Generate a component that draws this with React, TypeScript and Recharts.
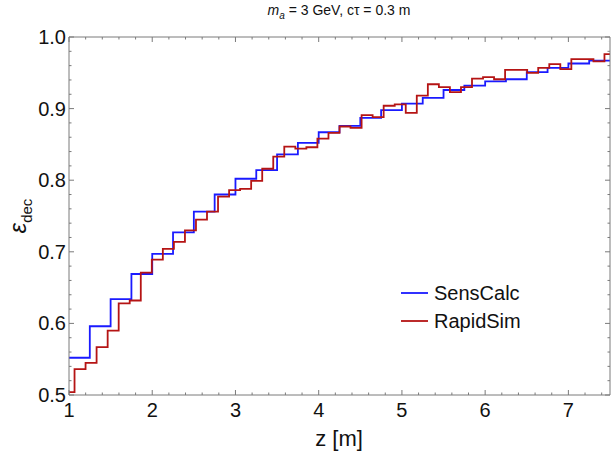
import { LineChart, Line, XAxis, YAxis } from 'recharts';

// SensCalc: bin edges (m) and efficiency per 0.25 m bin
const sensCalcZ = [
  1, 1.25, 1.5, 1.75, 2, 2.25, 2.5, 2.75, 3, 3.25, 3.5, 3.75, 4, 4.25, 4.5, 4.75,
  5, 5.25, 5.5, 5.75, 6, 6.25, 6.5, 6.75, 7, 7.25, 7.5,
];
const sensCalcEff = [
  0.552, 0.596, 0.634, 0.669, 0.697, 0.727, 0.756, 0.78, 0.802, 0.814, 0.836, 0.852,
  0.867, 0.876, 0.887, 0.898, 0.907, 0.915, 0.926, 0.932, 0.938, 0.941, 0.951, 0.957,
  0.963, 0.967,
];

// RapidSim: sample points (m) and efficiency
const rapidSimZ = [
  1.0, 1.133, 1.265, 1.398, 1.531, 1.663, 1.796, 1.929, 2.061, 2.194, 2.327, 2.459,
  2.592, 2.724, 2.857, 2.99, 3.122, 3.255, 3.388, 3.52, 3.653, 3.786, 3.918, 4.051,
  4.184, 4.316, 4.449, 4.582, 4.714, 4.847, 4.98, 5.112, 5.245, 5.378, 5.51, 5.643,
  5.776, 5.908, 6.041, 6.173, 6.306, 6.439, 6.571, 6.704, 6.837, 6.969, 7.102, 7.235,
  7.367, 7.5,
];
const rapidSimEff = [
  0.504, 0.536, 0.545, 0.567, 0.59, 0.628, 0.632, 0.671, 0.689, 0.704,
  0.714, 0.73, 0.745, 0.756, 0.777, 0.786, 0.788, 0.799, 0.816, 0.833,
  0.847, 0.844, 0.846, 0.858, 0.866, 0.875, 0.873, 0.891, 0.888, 0.904,
  0.906, 0.894, 0.918, 0.934, 0.93, 0.923, 0.93, 0.942, 0.944, 0.941,
  0.954, 0.954, 0.95, 0.957, 0.962, 0.955, 0.969, 0.969, 0.966, 0.976,
];

const xMajor = [1, 2, 3, 4, 5, 6, 7];
const yMajor = [0.5, 0.6, 0.7, 0.8, 0.9, 1.0];

const round = (v: number) => Math.round(v * 1000) / 1000;
const xTicks: number[] = [];
for (let v = 1; v <= 7.5 + 1e-9; v += 0.2) xTicks.push(round(v));
const yTicks: number[] = [];
for (let v = 0.5; v <= 1 + 1e-9; v += 0.02) yTicks.push(round(v));

const sensData = sensCalcZ.map((z, i) => ({
  z,
  eff: sensCalcEff[Math.min(i, sensCalcEff.length - 1)],
}));
const rapidData = rapidSimZ.map((z, i) => ({ z, eff: rapidSimEff[i] }));

const AXIS = '#7a7a7a';
const BLUE = '#1a1aff';
const RED = '#b51414';
const FONT = '"Liberation Sans", Arial, sans-serif';

const isMajorX = (v: number) => xMajor.some((m) => Math.abs(m - v) < 1e-6);
const isMajorY = (v: number) => yMajor.some((m) => Math.abs(m - v) < 1e-6);

const BottomTick = ({ x, y, payload }: any) => {
  const major = isMajorX(payload.value);
  return (
    <g>
      <line x1={x} y1={y} x2={x} y2={y - (major ? 5 : 2.5)} stroke={AXIS} />
      {major && (
        <text x={x} y={y + 22} textAnchor="middle" fontSize={20} fill="#111" fontFamily={FONT}>
          {payload.value}
        </text>
      )}
    </g>
  );
};

const TopTick = ({ x, y, payload }: any) => {
  const major = isMajorX(payload.value);
  return <line x1={x} y1={y} x2={x} y2={y + (major ? 5 : 2.5)} stroke={AXIS} />;
};

const LeftTick = ({ x, y, payload }: any) => {
  const major = isMajorY(payload.value);
  return (
    <g>
      <line x1={x} y1={y} x2={x + (major ? 5 : 2.5)} y2={y} stroke={AXIS} />
      {major && (
        <text x={x - 3} y={y + 7} textAnchor="end" fontSize={20} fill="#111" fontFamily={FONT}>
          {payload.value.toFixed(1)}
        </text>
      )}
    </g>
  );
};

const RightTick = ({ x, y, payload }: any) => {
  const major = isMajorY(payload.value);
  return <line x1={x} y1={y} x2={x - (major ? 5 : 2.5)} y2={y} stroke={AXIS} />;
};

const legendItems = [
  { name: 'SensCalc', color: BLUE },
  { name: 'RapidSim', color: RED },
];

export default function App() {
  return (
    <div
      style={{
        position: 'absolute',
        left: 0,
        top: 0,
        width: 611,
        height: 466,
        background: '#fff',
        fontFamily: FONT,
        color: '#111',
      }}
    >
      <LineChart width={611} height={466} margin={{ top: 0, right: 0, bottom: 0, left: 0 }}>
        <XAxis
          xAxisId="bottom"
          type="number"
          dataKey="z"
          domain={[1, 7.5]}
          allowDataOverflow
          ticks={xTicks}
          interval={0}
          height={71}
          tickSize={0}
          tickMargin={0}
          tickLine={false}
          axisLine={{ stroke: AXIS }}
          tick={BottomTick}
        />
        <XAxis
          xAxisId="top"
          orientation="top"
          type="number"
          dataKey="z"
          domain={[1, 7.5]}
          allowDataOverflow
          ticks={xTicks}
          interval={0}
          height={37}
          tickSize={0}
          tickMargin={0}
          tickLine={false}
          axisLine={{ stroke: AXIS }}
          tick={TopTick}
        />
        <YAxis
          yAxisId="left"
          type="number"
          domain={[0.5, 1]}
          allowDataOverflow
          ticks={yTicks}
          interval={0}
          width={69}
          tickSize={0}
          tickMargin={0}
          tickLine={false}
          axisLine={{ stroke: AXIS }}
          tick={LeftTick}
        />
        <YAxis
          yAxisId="right"
          orientation="right"
          type="number"
          domain={[0.5, 1]}
          allowDataOverflow
          ticks={yTicks}
          interval={0}
          width={1}
          tickSize={0}
          tickMargin={0}
          tickLine={false}
          axisLine={{ stroke: AXIS }}
          tick={RightTick}
        />
        {/* keeps the frame axes (top/right) bound to a series */}
        <Line
          xAxisId="top"
          yAxisId="right"
          data={sensData}
          dataKey="eff"
          stroke="none"
          dot={false}
          activeDot={false}
          legendType="none"
          isAnimationActive={false}
        />
        <Line
          xAxisId="bottom"
          yAxisId="left"
          data={sensData}
          dataKey="eff"
          name="SensCalc"
          type="stepAfter"
          stroke={BLUE}
          strokeWidth={1.8}
          dot={false}
          activeDot={false}
          isAnimationActive={false}
        />
        <Line
          xAxisId="bottom"
          yAxisId="left"
          data={rapidData}
          dataKey="eff"
          name="RapidSim"
          type="step"
          stroke={RED}
          strokeWidth={1.8}
          dot={false}
          activeDot={false}
          isAnimationActive={false}
        />
      </LineChart>

      <div
        style={{
          position: 'absolute',
          left: 189,
          width: 300,
          top: 2,
          textAlign: 'center',
          fontSize: 14,
        }}
      >
        <i>m</i>
        <sub style={{ fontSize: 10 }}>
          <i>a</i>
        </sub>{' '}
        = 3 GeV, cτ = 0.3 m
      </div>

      <div
        style={{
          position: 'absolute',
          left: 18 - 40,
          top: 216 - 15,
          width: 80,
          height: 30,
          lineHeight: '30px',
          textAlign: 'center',
          transform: 'rotate(-90deg)',
          fontSize: 24,
        }}
      >
        <i>ε</i>
        <sub style={{ fontSize: 15 }}>dec</sub>
      </div>

      <div
        style={{
          position: 'absolute',
          left: 289,
          width: 100,
          top: 426,
          textAlign: 'center',
          fontSize: 22,
        }}
      >
        z [m]
      </div>

      <div style={{ position: 'absolute', left: 401, top: 279 }}>
        {legendItems.map((it) => (
          <div
            key={it.name}
            style={{ display: 'flex', alignItems: 'center', height: 28, fontSize: 20 }}
          >
            <svg width={28} height={10} style={{ marginRight: 5 }}>
              <line x1={0} y1={5} x2={27} y2={5} stroke={it.color} strokeWidth={1.8} />
            </svg>
            {it.name}
          </div>
        ))}
      </div>
    </div>
  );
}
